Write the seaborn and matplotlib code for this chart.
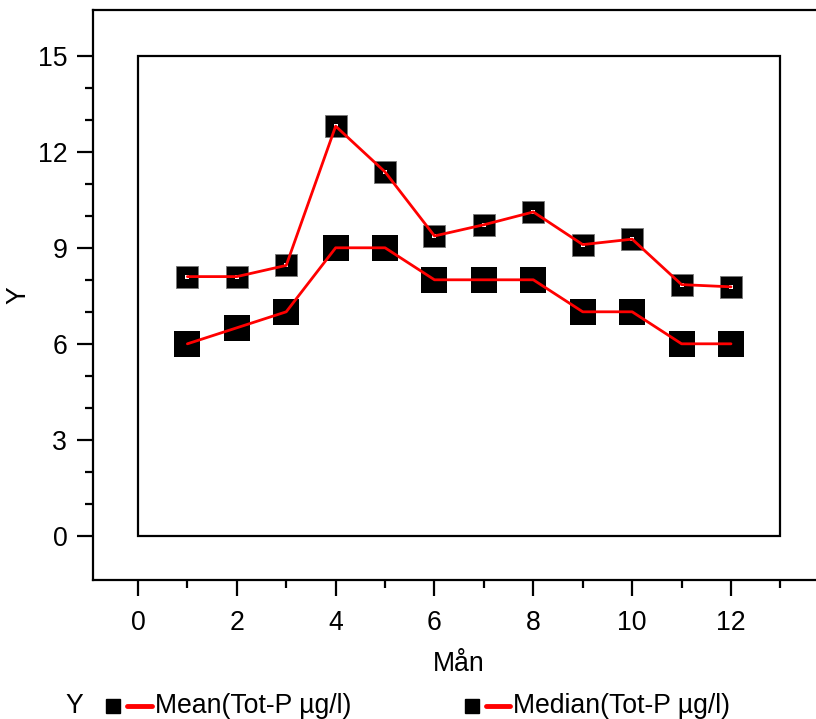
import matplotlib
matplotlib.use("Agg")
import matplotlib.pyplot as plt
import seaborn as sns
import pandas as pd
from matplotlib.patches import Rectangle
from matplotlib.lines import Line2D

months = [1, 2, 3, 4, 5, 6, 7, 8, 9, 10, 11, 12]
mean_vals = [8.1, 8.1, 8.45, 12.8, 11.37, 9.37, 9.72, 10.12, 9.1, 9.27, 7.85, 7.78]
median_vals = [6, 6.5, 7, 9, 9, 8, 8, 8, 7, 7, 6, 6]
x_major = [0, 2, 4, 6, 8, 10, 12]
x_minor = [1, 3, 5, 7, 9, 11, 13]
y_major = [0, 3, 6, 9, 12, 15]
y_minor = [1, 2, 4, 5, 7, 8, 10, 11, 13, 14]
mean_label = "Mean(Tot-P µg/l)"
median_label = "Median(Tot-P µg/l)"
x_label = "Mån"
y_label = "Y"

df = pd.DataFrame({"month": months, "mean": mean_vals, "median": median_vals})

sns.set_style("ticks")
plt.rcParams['font.family'] = ['Liberation Sans', 'DejaVu Sans']
plt.rcParams['text.color'] = 'black'
plt.rcParams['axes.labelcolor'] = 'black'
plt.rcParams['xtick.color'] = 'black'
plt.rcParams['ytick.color'] = 'black'
FS = 19.2

fig = plt.figure(figsize=(8.16, 7.19), dpi=100)
ax = fig.add_axes([93/816, 1-580/719, (816-93)/816, (580-10)/719])

# markers
sns.scatterplot(data=df, x="month", y="median", marker="s", s=350, color="black",
                linewidth=0, ax=ax, zorder=3, legend=False)
sns.scatterplot(data=df, x="month", y="mean", marker="s", s=250, color="black",
                edgecolor="#777777", linewidth=0.6, ax=ax, zorder=3, legend=False)
sns.scatterplot(data=df, x="month", y="mean", marker="s", s=5, color="white",
                linewidth=0, ax=ax, zorder=4, legend=False)
# lines
sns.lineplot(data=df, x="month", y="median", color="red", linewidth=2, ax=ax, zorder=5)
sns.lineplot(data=df, x="month", y="mean", color="red", linewidth=2, ax=ax, zorder=5)

# inner frame
ax.add_patch(Rectangle((0, 0), 13, 15, fill=False, edgecolor="black", linewidth=1.6, zorder=2))

ax.set_xlim(-0.91, 13.72)
ax.set_ylim(-1.38, 16.43)
ax.set_xticks(x_major)
ax.set_xticks(x_minor, minor=True)
ax.set_yticks(y_major)
ax.set_yticks(y_minor, minor=True)

ax.tick_params(which="major", length=11.5, width=1.6, labelsize=FS, direction="out",
               color="black", labelcolor="black")
ax.tick_params(which="minor", length=5.5, width=1.6, direction="out", color="black")
ax.tick_params(axis="y", pad=7)
ax.tick_params(axis="x", pad=10)

for s in ["left", "bottom", "top"]:
    ax.spines[s].set_linewidth(1.6)
    ax.spines[s].set_color("black")
ax.spines["right"].set_visible(False)

ax.set_xlabel(x_label, fontsize=FS, va="top", color="black")
ax.xaxis.set_label_coords((459-93)/723, (580-651)/570)
ax.set_ylabel(y_label, fontsize=FS, color="black")
ax.yaxis.set_label_coords((31-93)/723, 0.5)

# legend (manual, figure coordinates)
ly = 1 - 706/719
fig.text(65/816, ly, "Y", fontsize=FS, va="center", ha="left", color="black")
fig.add_artist(Line2D([113/816], [ly], marker="s", markersize=9.5, color="black",
                      linestyle="none", transform=fig.transFigure))
fig.add_artist(Line2D([127/816, 152/816], [ly, ly], color="red", linewidth=3.5,
                      solid_capstyle="round", transform=fig.transFigure))
fig.text(155/816, ly, mean_label, fontsize=FS, va="center", ha="left", color="black")
fig.add_artist(Line2D([472/816], [ly], marker="s", markersize=10, color="black",
                      linestyle="none", transform=fig.transFigure))
fig.add_artist(Line2D([486/816, 510/816], [ly, ly], color="red", linewidth=3.5,
                      solid_capstyle="round", transform=fig.transFigure))
fig.text(513/816, ly, median_label, fontsize=FS, va="center", ha="left", color="black")

fig.savefig("out.png", dpi=100)
